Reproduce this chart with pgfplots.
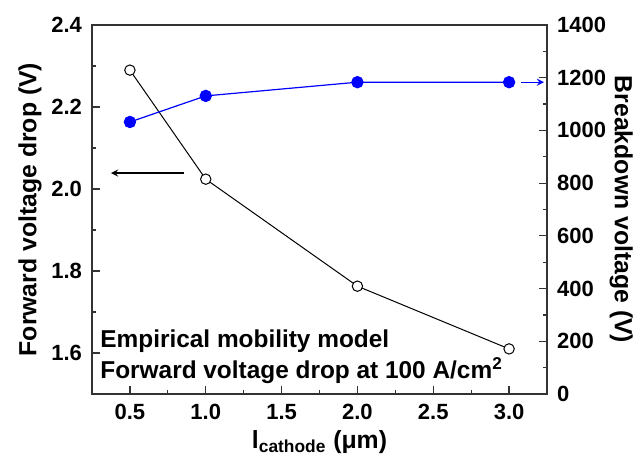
\documentclass[border=0pt]{standalone}
\usepackage{pgfplots}
\pgfplotsset{compat=1.18}
\usepackage{fontspec}
\setmainfont{Liberation Sans}
\definecolor{bdblue}{RGB}{0,0,255}
\begin{document}
\begin{tikzpicture}
\useasboundingbox (-46pt,-33pt) rectangle (271.5pt,197pt);
\pgfplotsset{
  every axis/.append style={
    scale only axis, width=227.5pt, height=184.5pt,
    at={(0,0)}, anchor=south west,
    xmin=0.25, xmax=3.25,
    tick align=inside,
    major tick length=4pt, minor tick length=2pt,
    axis line style={line width=0.6pt, black!80},
    every tick/.style={line width=0.6pt, black!80},
    /pgf/number format/assume math mode=true,
    /pgf/number format/set thousands separator={},
    tick label style={font=\bfseries\fontsize{11}{13}\selectfont},
    label style={font=\bfseries\fontsize{12.4}{14}\selectfont},
  }
}
\begin{axis}[
  name=ax,
  ymin=1.5, ymax=2.4,
  xtick={0.5,1,1.5,2,2.5,3},
  minor x tick num=1,
  ytick={1.6,1.8,2.0,2.2,2.4},
  minor y tick num=1,
  xtick pos=bottom, ytick pos=left,
  xticklabel style={/pgf/number format/.cd, fixed, fixed zerofill, precision=1},
  yticklabel style={/pgf/number format/.cd, fixed, fixed zerofill, precision=1},
  xticklabel shift=1.5pt, yticklabel shift=1.5pt,
  ylabel={Forward voltage drop (V)},
  ylabel style={at={(axis description cs:-0.136,0.5)}, anchor=center, rotate=0},
  xlabel={l\textsubscript{cathode} (μm)},
  xlabel style={at={(axis description cs:0.5,-0.147)}, anchor=base},
]
\addplot[black, line width=0.5pt, mark=*, mark size=2.6pt,
  mark options={fill=white, draw=black, line width=0.5pt}]
  coordinates {(0.5,2.29) (1.0,2.024) (2.0,1.763) (3.0,1.61)};
\draw[-stealth, line width=0.6pt, black] (axis cs:0.855,2.039) -- (axis cs:0.375,2.039);
\node[anchor=base west, font=\bfseries\fontsize{12.2}{14}\selectfont, inner sep=0pt]
  at (axis description cs:0.0176,0.127) {Empirical mobility model};
\node[anchor=base west, font=\bfseries\fontsize{12.2}{14}\selectfont, inner sep=0pt]
  at (axis description cs:0.0176,0.043) {Forward voltage drop at 100 A/cm\textsuperscript{2}};
\end{axis}
\begin{axis}[
  ymin=0, ymax=1400,
  ytick={0,200,...,1400},
  minor y tick num=1,
  axis x line=none,
  axis y line*=right,
  yticklabel shift=1.5pt,
  ylabel={Breakdown voltage (V)},
  ylabel style={at={(axis description cs:1.163,0.5)}, anchor=center, rotate=180},
]
\addplot[bdblue, line width=0.6pt, mark=*, mark size=2.8pt,
  mark options={fill=bdblue, draw=bdblue}]
  coordinates {(0.5,1032) (1.0,1131) (2.0,1183) (3.0,1183)};
\draw[-stealth, line width=0.6pt, bdblue] (axis cs:3.08,1183) -- (axis cs:3.23,1183);
\end{axis}
\end{tikzpicture}
\end{document}
